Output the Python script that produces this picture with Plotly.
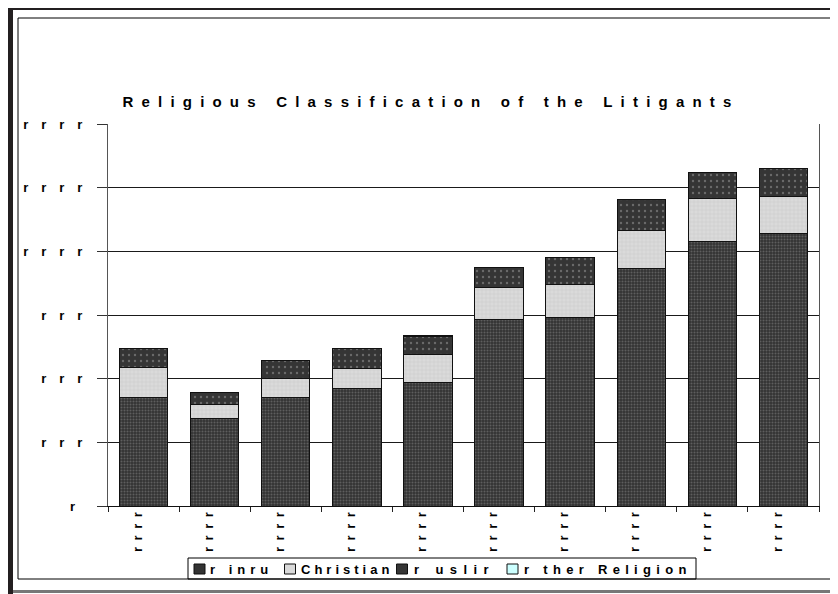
import plotly.graph_objects as go

# ---- data ----
periods = ["P1", "P2", "P3", "P4", "P5", "P6", "P7", "P8", "P9", "P10"]
period_labels = ["r\u2002r\u2002r\u2002r"] * 10   # garbled tick text as printed

hindu = [426, 344, 426, 463, 484, 733, 741, 931, 1040, 1072]
christian = [118, 53, 73, 78, 110, 125, 130, 149, 168, 143]
muslim = [74, 49, 73, 76, 72, 77, 103, 125, 103, 109]
other = [0, 0, 0, 0, 4, 0, 0, 0, 0, 3]

series_names = ["r inru", "Christian", "r uslir", "r ther Religion"]

y_ticks = [0, 250, 500, 750, 1000, 1250, 1500]
y_labels = ["r  ", "r\u2003r\u2003r", "r\u2003r\u2003r", "r\u2003r\u2003r",
            "r\u2003r\u2003r\u2003r", "r\u2003r\u2003r\u2003r", "r\u2003r\u2003r\u2003r"]

# ---- geometry: page body has an 8px margin, so work in screen pixels ----
OFF = 8
W, H = 838 - OFF, 594 - OFF
L, R, T, B = 108 - OFF, 19, 124 - OFF, 88
PW, PH = W - L - R, H - T - B


def px(x):
    return (x - OFF - L) / PW


def py(y):
    return (H - B - (y - OFF)) / PH


FONT = "Liberation Sans, Arial, sans-serif"

styles = [
    dict(bg="#333333", fg="#8a8a8a", shape=".", size=3, solidity=0.35),
    dict(bg="#dadada", fg="#b8b8b8", shape="+", size=4, solidity=0.25),
    dict(bg="#353535", fg="#a0a0a0", shape=".", size=6, solidity=0.12),
    dict(bg="#ccffff", fg="#ccffff", shape="", size=4, solidity=0.1),
]

fig = go.Figure()
for name, vals, st in zip(series_names, [hindu, christian, muslim, other], styles):
    fig.add_trace(go.Bar(
        x=periods, y=vals, name=name,
        marker=dict(
            color=st["bg"],
            line=dict(color="#111111", width=1),
            pattern=dict(shape=st["shape"], fgcolor=st["fg"], bgcolor=st["bg"],
                         size=st["size"], solidity=st["solidity"]),
        ),
    ))

fig.update_layout(
    width=W, height=H,
    margin=dict(l=L, r=R, t=T, b=B),
    barmode="stack", bargap=0.32,
    showlegend=False,
    paper_bgcolor="white", plot_bgcolor="white",
    font=dict(family=FONT, color="black"),
    title=dict(
        text='<span style="letter-spacing:8.2px"><b>Religious Classification of the Litigants</b></span>',
        font=dict(size=15, family=FONT, color="black"),
        x=px(431), xref="paper", xanchor="center",
        y=1 - (102 - OFF) / H, yref="container", yanchor="middle",
    ),
    xaxis=dict(
        type="category", tickmode="array", tickvals=periods, ticktext=period_labels,
        tickson="boundaries", ticks="outside", ticklen=5, tickcolor="#222",
        tickangle=-90, tickfont=dict(size=13, family=FONT, color="black", weight="bold"),
        ticklabelshift=-6,
        showline=True, linecolor="#111", linewidth=1, showgrid=False,
    ),
    yaxis=dict(
        range=[0, 1500], tickmode="array", tickvals=y_ticks, ticktext=y_labels,
        ticks="outside", ticklen=10, tickcolor="#333",
        tickfont=dict(size=13, family=FONT, color="black", weight="bold"),
        ticklabelstandoff=12,
        showline=True, linecolor="#555", linewidth=1, mirror=True,
        showgrid=True, gridcolor="#1a1a1a", gridwidth=1, zeroline=False,
    ),
)

# ---- frame ----
P = dict(xref="paper", yref="paper")
shapes = [
    dict(type="rect", x0=px(8), x1=px(838), y0=py(4), y1=py(10), fillcolor="#231f20", line_width=0, **P),
    dict(type="rect", x0=px(8), x1=px(13), y0=py(4), y1=py(594), fillcolor="#231f20", line_width=0, **P),
    dict(type="rect", x0=px(13), x1=px(838), y0=py(590), y1=py(593), fillcolor="#777777", line_width=0, **P),
    dict(type="rect", x0=px(18), x1=px(833), y0=py(18), y1=py(579), line=dict(color="black", width=1), **P),
    # legend box
    dict(type="rect", x0=px(188), x1=px(696), y0=py(558), y1=py(579), line=dict(color="black", width=1), **P),
]

legend_items = [
    (194, 207.5, 5.0),
    (284.5, 299, 4.0),
    (396.5, 412, 6.4),
    (507, 521.6, 5.3),
]
annotations = []
for (sx, tx, ls), name, st in zip(legend_items, series_names, styles):
    shapes.append(dict(type="rect", x0=px(sx), x1=px(sx + 11), y0=py(564), y1=py(574),
                       fillcolor=st["bg"], line=dict(color="#111", width=1), **P))
    annotations.append(dict(
        text=f'<span style="letter-spacing:{ls}px"><b>{name}</b></span>',
        x=px(tx), y=py(569.5), xref="paper", yref="paper",
        xanchor="left", yanchor="middle", showarrow=False,
        font=dict(size=13, family=FONT, color="black"),
    ))

fig.update_layout(shapes=shapes, annotations=annotations)

fig.write_html("out.html")
